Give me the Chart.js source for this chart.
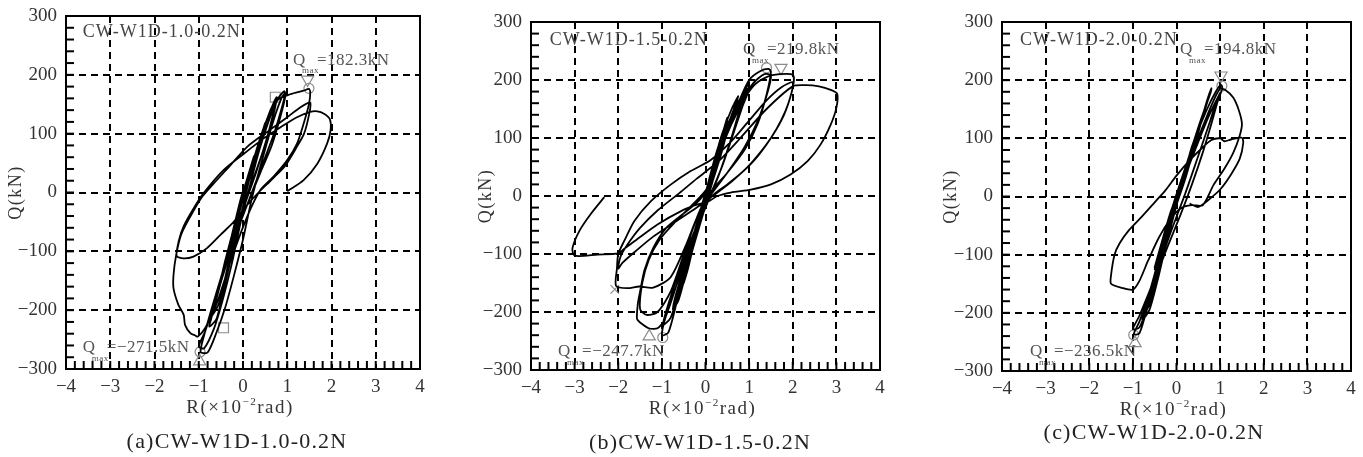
<!DOCTYPE html>
<html lang="ja">
<head>
    <meta charset="UTF-8">
    <title>CW-W1D hysteresis</title>
    <script src="https://cdn.jsdelivr.net/npm/chart.js@4.4.1/dist/chart.umd.min.js"></script>
    <style>
        html, body { margin: 0; padding: 0; background: #fff; }
        .wrap { position: relative; width: 1363px; height: 457px; overflow: hidden; }
        .panel { position: absolute; top: 0; height: 457px; }
    </style>
</head>
<body>
    <div class="wrap">
        <div class="panel" style="left:0;width:460px"><canvas id="chartA"></canvas></div>
        <div class="panel" style="left:460px;width:455px"><canvas id="chartB"></canvas></div>
        <div class="panel" style="left:915px;width:448px"><canvas id="chartC"></canvas></div>
    </div>

    <script>
        // axis ticks (major labelled, minor every 0.2 / 20)
        const rTicks = [-4, -3, -2, -1, 0, 1, 2, 3, 4];
        const qTicks = [-300, -200, -100, 0, 100, 200, 300];
        const rMinor = 0.2;
        const qMinor = 20;

        // (a) CW-W1D-1.0-0.2N : R (x10^-2 rad), Q (kN)
        const curveA = [
            [0,0],[0.12,30],[0.25,62],[0.2,45],[0.05,5],[-0.12,-35],[-0.25,-72],[-0.18,-50],[-0.03,-5],
            [0.2,45],[0.4,95],[0.52,120],[0.45,95],[0.25,45],[0,-10],[-0.25,-75],[-0.5,-150],[-0.42,-125],[-0.2,-60],[0,-5],
            [0.25,55],[0.5,118],[0.44,95],[0.2,35],[-0.1,-35],[-0.5,-148],[-0.4,-115],[-0.15,-45],[0.05,5],
            [0.35,80],[0.6,135],[0.76,162],[0.7,140],[0.55,95],[0.3,35],[-0.05,-40],[-0.4,-125],[-0.72,-215],[-0.76,-228],[-0.6,-215],[-0.45,-170],[-0.25,-105],[-0.05,-40],
            [0.3,70],[0.62,140],[0.75,158],[0.68,130],[0.45,70],[0.1,-5],[-0.3,-95],[-0.72,-210],[-0.55,-190],[-0.3,-110],[-0.05,-25],
            [0.4,95],[0.75,155],[0.93,172],[0.96,165],[0.85,130],[0.65,80],[0.4,35],[0.1,-20],[-0.25,-85],[-0.6,-170],[-0.85,-235],[-0.96,-271],[-0.8,-272],[-0.6,-238],[-0.4,-195],[-0.2,-140],[0,-80],[0.2,-10],[0.45,60],
            [0.7,125],[0.88,162],[0.95,168],[0.88,145],[0.7,100],[0.45,50],[0.15,-10],[-0.2,-80],[-0.55,-165],[-0.85,-235],[-1,-262],[-0.88,-265],[-0.65,-230],[-0.45,-180],[-0.25,-120],[-0.05,-50],[0.15,10],
            [0.4,80],[0.77,156],[1.07,167],[1.37,173],[1.49,176],[1.52,170],[1.49,150],[1.37,117],[1.22,83],[1,55],[0.69,27],[0.4,5],[0.1,-40],[-0.25,-110],[-0.6,-190],[-0.85,-230],[-1.02,-245],[-1.08,-243],[-1.19,-239],[-1.31,-225],[-1.34,-208],[-1.46,-191],[-1.57,-163],[-1.57,-140],[-1.51,-106],
            [-1.4,-72],[-1.2,-42],[-0.95,-10],[-0.7,12],[-0.3,45],[0.1,78],[0.6,106],[1,128],[1.3,145],[1.52,153],[1.5,135],[1.38,100],[1.22,78],[0.95,45],[0.65,22],[0.35,0],[0.05,-25],[-0.21,-50],[-0.51,-72],[-0.82,-95],[-1.12,-109],[-1.35,-112],[-1.5,-108],
            [-1.45,-82],[-1.34,-57],[-1.1,-25],[-0.89,-1],[-0.44,38],[0.02,66],[0.47,92],[0.85,111],[1.22,128],[1.52,137],[1.68,138],[1.83,134],[1.96,125],[1.98,106],[1.9,83],[1.68,49],[1.37,21],[1,2]
        ];
        const circlesA = [[1.49,177],[-0.97,-271]];
        const triDownA = [[1.46,192]];
        const triUpA = [[-0.98,-287]];
        const squaresA = [[0.73,162],[-0.44,-230]];
        const crossesA = [];

        // (b) CW-W1D-1.5-0.2N
        const curveB = [
            [0,0],[0.12,35],[0.25,70],[0.18,45],[0.02,0],[-0.12,-35],[-0.25,-72],[-0.18,-48],[-0.02,-5],
            [0.2,55],[0.4,110],[0.5,135],[0.42,105],[0.22,45],[0,-15],[-0.25,-80],[-0.5,-150],[-0.4,-125],[-0.2,-60],[0.02,10],
            [0.25,75],[0.5,130],[0.42,100],[0.2,35],[-0.15,-55],[-0.5,-145],[-0.36,-110],[-0.12,-40],[0.05,15],
            [0.35,100],[0.6,150],[0.75,172],[0.65,150],[0.45,100],[0.2,35],[-0.2,-60],[-0.5,-130],[-0.75,-195],[-0.62,-180],[-0.42,-125],[-0.15,-45],[0.15,40],
            [0.5,120],[0.74,165],[0.6,140],[0.35,70],[-0.1,-35],[-0.5,-125],[-0.74,-190],[-0.55,-160],[-0.3,-85],[0,5],
            [0.4,100],[0.75,160],[0.95,190],[1,197],[0.9,180],[0.75,140],[0.55,90],[0.3,35],[0,-20],[-0.3,-75],[-0.6,-140],[-0.9,-205],[-1,-240],[-0.85,-235],[-0.65,-180],[-0.45,-120],[-0.25,-60],[0,0],
            [0.3,70],[0.7,145],[0.95,185],[0.98,180],[0.85,155],[0.65,110],[0.4,55],[0.1,0],[-0.25,-60],[-0.65,-140],[-0.98,-222],[-0.8,-210],[-0.6,-160],[-0.35,-90],[-0.1,-20],[0.1,30],
            [0.4,95],[0.75,160],[1,200],[1.25,215],[1.45,219],[1.5,214],[1.4,175],[1.2,125],[0.9,80],[0.5,40],[0.15,10],[-0.1,-20],[-0.35,-70],[-0.65,-150],[-0.95,-215],[-1.1,-228],[-1.3,-228],[-1.5,-218],[-1.57,-212],[-1.55,-185],[-1.5,-165],[-1.4,-128],[-1.2,-90],[-0.9,-55],[-0.5,-30],[-0.15,-8],[0.1,20],
            [0.4,95],[0.8,160],[1.1,195],[1.35,210],[1.5,208],[1.42,178],[1.2,130],[0.9,85],[0.5,40],[0.15,5],[-0.15,-30],[-0.45,-90],[-0.8,-165],[-1.1,-200],[-1.35,-205],[-1.5,-195],[-1.45,-150],[-1.3,-110],[-1.05,-75],[-0.7,-45],[-0.3,-15],[0.05,15],
            [0.4,90],[0.8,155],[1.1,190],[1.4,205],[1.7,210],[2,209],[2.02,195],[1.9,160],[1.73,130],[1.5,100],[1.2,70],[0.9,45],[0.5,20],[0.15,0],[-0.15,-30],[-0.45,-85],[-0.8,-140],[-1.2,-158],[-1.52,-156],[-1.79,-159],[-2.05,-155],[-2.03,-125],[-2,-100],[-1.86,-77],[-1.63,-43],[-1.25,-9],[-0.79,20],[-0.34,43],[0.12,62],[0.6,95],[1,130],[1.4,165],[1.75,188],[2,196],[1.98,180],[1.8,140],[1.5,100],[1.1,60],[0.6,25],[0.2,2],[-0.2,-20],[-0.7,-45],[-1.2,-70],[-1.6,-95],[-1.9,-115],[-2,-125],[-1.95,-105],[-1.8,-85],[-1.5,-55],[-1.1,-25],[-0.6,5],[-0.2,30],[0.3,60],[0.8,100],[1.4,150],[2,189],
            [2.3,191],[2.6,189],[2.87,183],[3.02,176],[3,152],[2.87,123],[2.64,89],[2.34,60],[1.95,37],[1.5,20],[1.04,11],[0.58,6],[0.27,0],[0.1,-8],[-0.2,-15],[-0.56,-26],[-1.1,-49],[-1.56,-74],[-1.86,-91],[-2,-99],[-2.47,-101],[-3,-103],[-3.05,-90],[-2.89,-60],[-2.63,-31],[-2.32,-2]
        ];
        const circlesB = [[1.40,221],[-0.98,-244]];
        const triDownB = [[1.73,221]];
        const triUpB = [[-1.29,-242]];
        const squaresB = [];
        const crossesB = [[-2.08,-161]];

        // (c) CW-W1D-2.0-0.2N
        const curveC = [
            [0,0],[0.12,28],[0.25,55],[0.18,35],[0.03,0],[-0.12,-30],[-0.25,-62],[-0.18,-40],[-0.03,-3],
            [0.25,60],[0.5,112],[0.42,88],[0.2,30],[-0.05,-25],[-0.3,-80],[-0.5,-122],[-0.4,-95],[-0.15,-30],[0.05,10],
            [0.3,70],[0.5,110],[0.4,85],[0.15,20],[-0.2,-55],[-0.5,-125],[-0.34,-95],[-0.1,-25],
            [0.25,60],[0.55,130],[0.78,178],[0.8,186],[0.7,165],[0.5,110],[0.25,45],[-0.1,-30],[-0.45,-120],[-0.72,-195],[-0.78,-212],[-0.62,-195],[-0.42,-140],[-0.2,-70],
            [0.2,40],[0.55,125],[0.78,180],[0.68,160],[0.45,100],[0.1,10],[-0.3,-80],[-0.6,-160],[-0.78,-205],[-0.58,-180],[-0.3,-100],[0,-15],
            [0.35,85],[0.7,150],[0.9,180],[1.02,192],[1.05,186],[0.95,165],[0.8,125],[0.6,75],[0.35,20],[0.1,-30],[-0.25,-95],[-0.6,-165],[-0.85,-215],[-0.98,-237],[-0.85,-235],[-0.7,-200],[-0.5,-150],[-0.3,-95],[-0.1,-35],[0.1,15],
            [0.4,75],[0.75,140],[1,178],[0.92,165],[0.75,125],[0.5,70],[0.2,5],[-0.15,-65],[-0.5,-140],[-0.85,-205],[-1,-228],[-0.85,-225],[-0.65,-185],[-0.45,-130],[-0.2,-60],[0,-15],
            [0.3,60],[0.6,120],[0.85,165],[1,185],[1.12,183],[1.3,170],[1.43,148],[1.5,125],[1.45,105],[1.3,75],[1.1,48],[0.85,20],[0.6,-15],[0.35,-15],[0.1,-20],[-0.15,-40],[-0.4,-70],[-0.65,-110],[-0.85,-145],[-1,-160],[-1.25,-157],[-1.5,-150],[-1.5,-135],[-1.42,-100],[-1.3,-80],[-1.08,-57],[-0.8,-35],[-0.5,-10],[-0.25,11],[0,36],[0.3,62],[0.58,83],[0.8,97],[1,100],[1.1,95],[1.25,98],[1.5,101],[1.53,92],[1.45,65],[1.25,38],[1,12],[0.73,-6],[0.5,-18],[0.3,-12]
        ];
        const circlesC = [[1.04,190],[-0.98,-238]];
        const triDownC = [[1.02,208]];
        const triUpC = [[-0.95,-252]];
        const squaresC = [];
        const crossesC = [];

        const serif = '"Liberation Serif", "DejaVu Serif", serif';

        function isMajor(v, step) {
            return Math.abs(v / step - Math.round(v / step)) < 1e-6;
        }
        function fmt(v) {
            const n = Math.round(v);
            return n < 0 ? '\u2212' + Math.abs(n) : String(n);
        }
        function pts(arr) {
            return arr.map(p => ({ x: p[0], y: p[1] }));
        }
        function markerSet(arr, style, radius, rotation) {
            return {
                data: pts(arr), showLine: false, pointStyle: style, pointRadius: radius,
                pointRotation: rotation || 0, pointBorderColor: '#8c8c8c',
                pointBackgroundColor: 'rgba(0,0,0,0)', pointBorderWidth: 1.2
            };
        }

        // frame, inner minor ticks and all free text of a panel
        const panelDecor = {
            id: 'panelDecor',
            afterDraw(chart, args, p) {
                const { ctx, chartArea: a, scales: { x, y } } = chart;
                ctx.save();
                ctx.strokeStyle = '#000';
                ctx.lineWidth = 2;
                x.ticks.forEach(t => {
                    const px = x.getPixelForValue(t.value);
                    ctx.beginPath(); ctx.moveTo(px, a.bottom); ctx.lineTo(px, a.bottom - 8); ctx.stroke();
                });
                y.ticks.forEach(t => {
                    const py = y.getPixelForValue(t.value);
                    ctx.beginPath(); ctx.moveTo(a.left, py); ctx.lineTo(a.left + 8, py); ctx.stroke();
                });
                ctx.strokeRect(a.left, a.top, a.right - a.left, a.bottom - a.top);

                ctx.textBaseline = 'middle';

                // specimen name inside the plot
                ctx.fillStyle = '#444';
                ctx.textAlign = 'left';
                ctx.font = '18px ' + serif;
                ctx.letterSpacing = '1px';
                ctx.fillText(p.title, x.getPixelForValue(p.titleAt[0]), y.getPixelForValue(p.titleAt[1]));

                // Qmax notes
                ctx.fillStyle = '#555';
                ctx.letterSpacing = '0.5px';
                [[p.posAt, p.posText], [p.negAt, p.negText]].forEach(([at, txt]) => {
                    const X = x.getPixelForValue(at[0]), Y = y.getPixelForValue(at[1]);
                    ctx.font = '17px ' + serif;
                    ctx.fillText('Q', X, Y);
                    ctx.font = '9px ' + serif;
                    ctx.fillText('max', X + 9, Y + 11);
                    ctx.font = '17px ' + serif;
                    ctx.fillText(txt, X + 24, Y);
                });

                // y title
                ctx.fillStyle = '#333';
                ctx.save();
                ctx.translate(a.left + p.yTitleDx, (a.top + a.bottom) / 2);
                ctx.rotate(-Math.PI / 2);
                ctx.textAlign = 'center';
                ctx.font = '18px ' + serif;
                ctx.letterSpacing = '1.5px';
                ctx.fillText('Q(kN)', 0, 0);
                ctx.restore();

                // x title with superscript
                ctx.letterSpacing = '1.5px';
                ctx.textAlign = 'left';
                const big = '19px ' + serif, small = '11px ' + serif;
                ctx.font = big;
                const w1 = ctx.measureText('R(\u00d710').width;
                const w3 = ctx.measureText('rad)').width;
                ctx.font = small;
                const w2 = ctx.measureText('\u22122').width;
                let cx = (a.left + a.right) / 2 - 3 - (w1 + w2 + w3) / 2;
                const cy = a.bottom + 39;
                ctx.font = big; ctx.fillText('R(\u00d710', cx, cy); cx += w1;
                ctx.font = small; ctx.fillText('\u22122', cx, cy - 6); cx += w2;
                ctx.font = big; ctx.fillText('rad)', cx, cy);

                // caption
                ctx.fillStyle = '#222';
                ctx.textAlign = 'center';
                ctx.font = '22px ' + serif;
                ctx.letterSpacing = '1.2px';
                ctx.fillText(p.caption, p.capX, p.capY);
                ctx.restore();
            }
        };

        function makePanel(p) {
            const tickFont = { family: serif, size: 19 };
            return new Chart(document.getElementById(p.id), {
                type: 'scatter',
                data: {
                    datasets: [
                        {
                            data: pts(p.curve), showLine: true, borderColor: '#000', borderWidth: 1.8,
                            pointRadius: 0, tension: 0.25, fill: false
                        },
                        markerSet(p.circles, 'circle', 5),
                        markerSet(p.triUp, 'triangle', 7),
                        markerSet(p.triDown, 'triangle', 7, 180),
                        markerSet(p.squares, 'rect', 7),
                        markerSet(p.crosses, 'crossRot', 6)
                    ]
                },
                options: {
                    responsive: true,
                    maintainAspectRatio: false,
                    animation: false,
                    layout: { padding: { left: 0, top: p.top, right: p.right, bottom: 0 } },
                    plugins: {
                        legend: { display: false },
                        tooltip: { enabled: false },
                        panelDecor: p
                    },
                    scales: {
                        x: {
                            type: 'linear',
                            min: rTicks[0],
                            max: rTicks[rTicks.length - 1],
                            ticks: {
                                stepSize: rMinor, autoSkip: false, maxRotation: 0, minRotation: 0,
                                padding: 7, color: '#333', font: tickFont,
                                callback: v => isMajor(v, rTicks[1] - rTicks[0]) ? fmt(v) : ''
                            },
                            grid: {
                                drawTicks: false, lineWidth: 2,
                                color: c => (c.tick && isMajor(c.tick.value, rTicks[1] - rTicks[0])) ? '#000' : 'rgba(0,0,0,0)'
                            },
                            border: { display: true, color: '#000', width: 2, dash: [7, 5] },
                            afterFit: s => { s.height = p.xh; s.paddingLeft = 0; s.paddingRight = 0; }
                        },
                        y: {
                            type: 'linear',
                            min: qTicks[0],
                            max: qTicks[qTicks.length - 1],
                            ticks: {
                                stepSize: qMinor, autoSkip: false, padding: 9, color: '#333', font: tickFont,
                                callback: v => isMajor(v, qTicks[1] - qTicks[0]) ? fmt(v) : ''
                            },
                            grid: {
                                drawTicks: false, lineWidth: 2,
                                color: c => (c.tick && isMajor(c.tick.value, qTicks[1] - qTicks[0])) ? '#000' : 'rgba(0,0,0,0)'
                            },
                            border: { display: true, color: '#000', width: 2, dash: [7, 5] },
                            afterFit: s => { s.width = p.yw; s.paddingTop = 0; s.paddingBottom = 0; }
                        }
                    }
                },
                plugins: [panelDecor]
            });
        }

        makePanel({
            id: 'chartA', curve: curveA, circles: circlesA, triUp: triUpA, triDown: triDownA,
            squares: squaresA, crosses: crossesA,
            title: 'CW-W1D-1.0-0.2N', titleAt: [-3.62, 272],
            posAt: [1.13, 225], posText: '=182.3kN',
            negAt: [-3.62, -264], negText: '=\u2212271.5kN',
            caption: '(a)CW-W1D-1.0-0.2N', capX: 237, capY: 442,
            yw: 66, top: 16, right: 40, xh: 88, yTitleDx: -50
        });
        makePanel({
            id: 'chartB', curve: curveB, circles: circlesB, triUp: triUpB, triDown: triDownB,
            squares: squaresB, crosses: crossesB,
            title: 'CW-W1D-1.5-0.2N', titleAt: [-3.57, 269],
            posAt: [0.86, 252], posText: '=219.8kN',
            negAt: [-3.38, -269], negText: '=\u2212247.7kN',
            caption: '(b)CW-W1D-1.5-0.2N', capX: 240, capY: 443,
            yw: 71, top: 22, right: 35, xh: 87, yTitleDx: -45
        });
        makePanel({
            id: 'chartC', curve: curveC, circles: circlesC, triUp: triUpC, triDown: triDownC,
            squares: squaresC, crosses: crossesC,
            title: 'CW-W1D-2.0-0.2N', titleAt: [-3.59, 269],
            posAt: [0.08, 252], posText: '=194.8kN',
            negAt: [-3.36, -267], negText: '=\u2212236.5kN',
            caption: '(c)CW-W1D-2.0-0.2N', capX: 239, capY: 433,
            yw: 87, top: 22, right: 12, xh: 86, yTitleDx: -51
        });
    </script>
</body>
</html>
